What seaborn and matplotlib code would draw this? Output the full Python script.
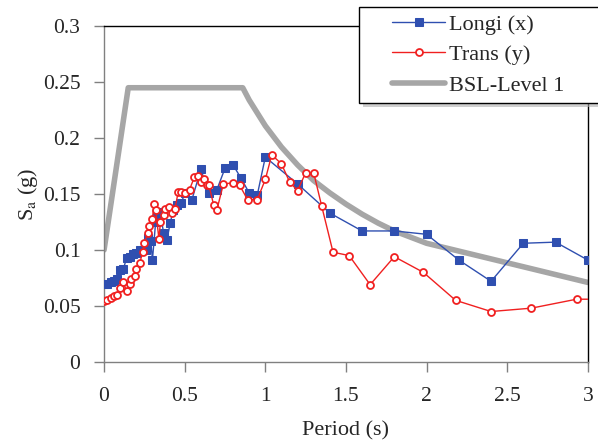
import matplotlib
matplotlib.use("Agg")
import matplotlib.pyplot as plt
import matplotlib.patches as mpatches
import seaborn as sns

# Longi (x)
longi_T = [0.00, 0.02, 0.04, 0.06, 0.08, 0.10, 0.12, 0.14, 0.16, 0.18, 0.20, 0.22,
           0.24, 0.26, 0.27, 0.29, 0.30, 0.32, 0.33, 0.35, 0.37, 0.39, 0.41, 0.43,
           0.45, 0.48, 0.50, 0.545, 0.60, 0.65, 0.70, 0.75, 0.80, 0.85, 0.90, 0.95,
           1.00, 1.20, 1.40, 1.60, 1.80, 2.00, 2.20, 2.40, 2.60, 2.80, 3.00]
longi_Sa = [0.070, 0.070, 0.071, 0.072, 0.074, 0.082, 0.083, 0.093, 0.094, 0.096, 0.097, 0.100,
            0.100, 0.100, 0.111, 0.108, 0.091, 0.125, 0.134, 0.131, 0.115, 0.109, 0.124, 0.136,
            0.140, 0.142, 0.151, 0.145, 0.172, 0.151, 0.154, 0.173, 0.176, 0.164, 0.151, 0.149,
            0.183, 0.159, 0.133, 0.117, 0.117, 0.114, 0.091, 0.072, 0.106, 0.107, 0.091]

# Trans (y)
trans_T = [0.00, 0.02, 0.04, 0.06, 0.08, 0.10, 0.12, 0.14, 0.16, 0.17, 0.19, 0.20,
           0.22, 0.24, 0.25, 0.27, 0.28, 0.30, 0.31, 0.32, 0.34, 0.35, 0.37, 0.38,
           0.40, 0.42, 0.44, 0.46, 0.48, 0.50, 0.53, 0.56, 0.58, 0.60, 0.62, 0.64,
           0.65, 0.68, 0.70, 0.74, 0.80, 0.84, 0.89, 0.95, 1.00, 1.04, 1.10, 1.15,
           1.20, 1.25, 1.30, 1.35, 1.42, 1.52, 1.65, 1.80, 1.98, 2.18, 2.40, 2.65,
           2.93, 3.10]
trans_Sa = [0.054, 0.055, 0.057, 0.059, 0.060, 0.066, 0.071, 0.063, 0.070, 0.074, 0.077, 0.083,
            0.088, 0.098, 0.106, 0.115, 0.121, 0.128, 0.141, 0.136, 0.110, 0.125, 0.131, 0.137,
            0.138, 0.133, 0.137, 0.152, 0.152, 0.151, 0.154, 0.165, 0.166, 0.161, 0.163, 0.158,
            0.158, 0.140, 0.136, 0.159, 0.160, 0.158, 0.145, 0.145, 0.163, 0.185, 0.177, 0.161,
            0.153, 0.169, 0.169, 0.139, 0.098, 0.095, 0.069, 0.094, 0.080, 0.055, 0.045, 0.048,
            0.056, 0.056]

# BSL-Level 1 design spectrum
bsl_T = [0.00, 0.15, 0.86, 0.90, 1.00, 1.10, 1.20, 1.30, 1.40, 1.50, 1.60, 1.70, 1.80, 2.00, 3.00]
bsl_Sa = [0.100, 0.245, 0.245, 0.234, 0.211, 0.192, 0.176, 0.162, 0.151, 0.141, 0.132, 0.124,
          0.117, 0.106, 0.071]

x_ticks = [0, 0.5, 1, 1.5, 2, 2.5, 3]
x_labels = ["0", "0.5", "1", "1.5", "2", "2.5", "3"]
y_ticks = [0, 0.05, 0.1, 0.15, 0.2, 0.25, 0.3]
y_labels = ["0", "0.05", "0.1", "0.15", "0.2", "0.25", "0.3"]

sns.set_style("ticks")
plt.rcParams["font.family"] = ["Liberation Serif", "DejaVu Serif"]
plt.rcParams["mathtext.fontset"] = "stix"

fig = plt.figure(figsize=(5.98, 4.44), dpi=100)
ax = fig.add_axes([0.174, 0.185, 0.809, 0.756])

sns.lineplot(x=longi_T, y=longi_Sa, ax=ax, sort=False, color="#2f4fb0", lw=1.0,
             marker="s", markersize=5.5, markeredgecolor="#2f4fb0", label="Longi (x)", zorder=3)
sns.lineplot(x=trans_T, y=trans_Sa, ax=ax, sort=False, color="#f02020", lw=1.0,
             marker="o", markersize=5, markerfacecolor="white", markeredgecolor="#f02020",
             markeredgewidth=1.3, label="Trans (y)", zorder=4)
sns.lineplot(x=bsl_T, y=bsl_Sa, ax=ax, sort=False, color="#a6a6a6", lw=4.0,
             label="BSL-Level 1", zorder=2)

ax.set_xlim(0, 3)
ax.set_ylim(0, 0.3)
ax.set_xticks(x_ticks)
ax.set_xticklabels(x_labels)
ax.set_yticks(y_ticks)
ax.set_yticklabels(y_labels)
ax.tick_params(labelsize=15.5, length=7, width=1, color="#808080", direction="out")
ax.tick_params(axis="x", pad=11)
ax.tick_params(axis="y", pad=10)

for s in ["left", "bottom"]:
    ax.spines[s].set_color("#808080")
    ax.spines[s].set_linewidth(1.0)
for s in ["top", "right"]:
    ax.spines[s].set_visible(True)
    ax.spines[s].set_color("black")
    ax.spines[s].set_linewidth(1.0)

ax.set_xlabel("Period (s)", fontsize=16, labelpad=11)
ax.set_ylabel(r"S$_{\mathrm{a}}$ (g)", fontsize=16, labelpad=2)

# legend box with shadow, drawn in figure coords
bx, by, bw, bh = 359 / 598, 1 - 103 / 444, 0.45, 96 / 444
shadow = mpatches.Rectangle((bx + 4 / 598, by - 4 / 444), bw, bh, transform=fig.transFigure,
                            facecolor="#b0b0b0", edgecolor="none", alpha=0.6, zorder=5)
box = mpatches.Rectangle((bx, by), bw, bh, transform=fig.transFigure,
                         facecolor="white", edgecolor="black", lw=1.0, zorder=6)
fig.patches.extend([shadow, box])

leg = ax.legend(loc="upper left", bbox_to_anchor=(392 / 598, 1 - 14 / 444),
                bbox_transform=fig.transFigure, fontsize=16, frameon=False,
                handlelength=2.4, borderpad=0, labelspacing=0.45, handletextpad=0.15,
                borderaxespad=0)
leg.set_zorder(10)
leg.remove()
fig.legends.append(leg)
leg.set_figure(fig)

fig.savefig("out.png", dpi=100)
